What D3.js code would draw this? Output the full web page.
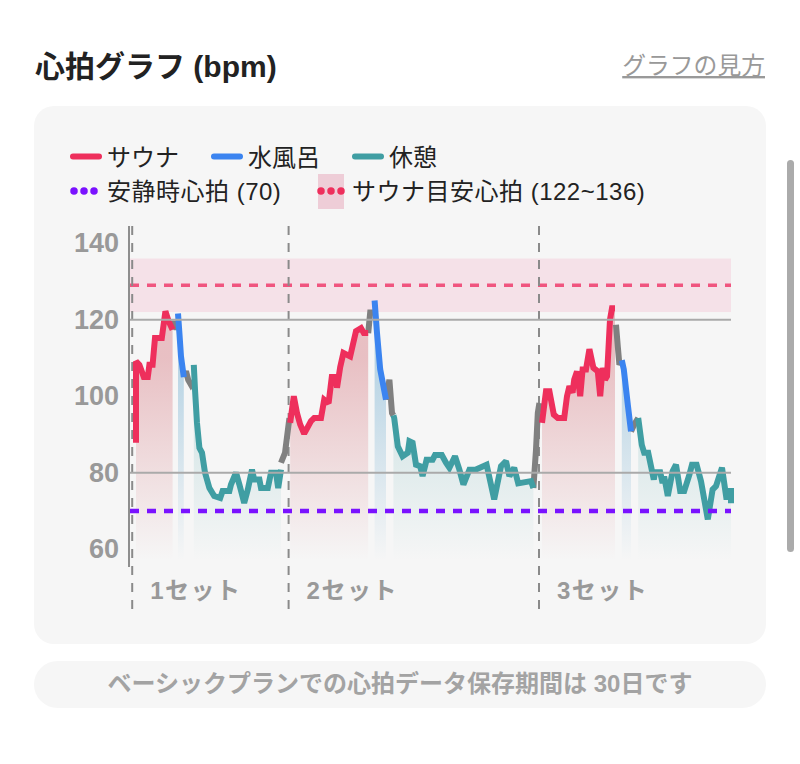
<!DOCTYPE html>
<html lang="ja">
<head>
<meta charset="utf-8">
<script src="https://cdnjs.cloudflare.com/ajax/libs/d3/7.8.5/d3.min.js"></script>
<style>
html, body { margin: 0; padding: 0; background: #fff; overflow: hidden; }
svg { display: block; }
text { font-family: "Liberation Sans", "Noto Sans CJK JP", sans-serif; }
</style>
</head>
<body>
<svg id="chart" width="800" height="764"></svg>
<script>
const yTicks = [60, 80, 100, 120, 140];
const gridValues = [80, 120];
const restHeartRate = 70;
const targetRange = [122, 136];
const setStarts = [0.3, 39.4, 102];
const setLabels = ['1セット', '2セット', '3セット'];

// [time, bpm]
const sauna1 = [[1.25,87.8],[1.25,109.1],[2.1,108.2],[3.2,105],[4.2,105],[4.6,108.2],[5.4,108.2],[6,115.2],[7.7,115.2],[8.6,122.2],[9.4,119.6],[10.4,117.4]];
const move1a = [[10.4,117.4],[10.9,119.6],[11.4,117.4],[11.75,119.6]];
const cold1 = [[11.75,121.6],[12.1,116.5],[12.5,110.4],[13.2,105]];
const move1b = [[13.2,105],[13.75,106.5],[14.3,104.3],[15,103],[15.3,103.5]];
const rest1 = [[15.7,108.2],[16,101.7],[16.5,93],[17.1,86.5],[17.75,85.2],[18.5,80],[19.6,76],[20.8,73.9],[22.3,73.4],[22.9,75.2],[24.6,75.2],[25,76.9],[26.25,80],[27.1,76.9],[28.3,72.1],[29.2,75.6],[30.25,80.8],[30.8,78.2],[32.1,78.2],[32.5,76],[34.2,76],[35,80],[36.25,80],[36.8,76],[37.5,80.8]];
const move2a = [[37.5,82.6],[38.5,85.2],[39.6,94.3]];
const sauna2 = [[39.8,93],[40.7,100],[41.5,95.6],[42.3,92.6],[43.3,90.2],[45,93.5],[45.8,94.3],[47.5,94.3],[48.3,99.1],[49.4,98.2],[50.2,105],[51.25,105],[51.5,102.2],[52.3,107.6],[53.1,111.3],[54.8,110.4],[56.25,117],[57.5,117.8],[58.2,116.5],[59.3,116.5]];
const move2b = [[59.3,116.5],[59.8,121.9],[60.5,121.9]];
const cold2 = [[60.9,125],[61.5,116.5],[62.3,107],[63.75,99.1]];
const move2c = [[63.75,99.1],[64.6,104.3],[65.25,95.6],[65.6,95]];
const rest2 = [[65.6,95],[65.8,94.3],[66.7,86.9],[67.9,84.3],[69.2,85.2],[69.6,88.2],[70.4,87.8],[71.25,82.1],[72.3,81.7],[72.9,79.1],[73.9,83.4],[75.4,83.4],[76,84.6],[77.7,84.6],[78.75,82.6],[79.6,81.3],[81,84.3],[82.1,80.8],[83.1,76.9],[84.6,80.8],[86.1,80.8],[88.9,82.1],[90.8,73],[92.5,81.7],[93.75,83],[94.6,79.1],[95.8,81.3],[96.8,77.2],[100,77.8],[100.6,76]];
const move3a = [[100.6,76],[101.25,86],[101.7,95.6],[102.1,98.2]];
const sauna3 = [[102.75,93],[103.75,101.3],[104.6,101.3],[105.7,95.2],[106.7,94.3],[108.3,94.3],[109,100],[109.6,102.6],[110.4,100.9],[110.8,104.3],[111.5,106.5],[112.3,100],[112.9,107],[113.75,107],[114.6,112.3],[115.6,107.4],[116.7,106.5],[117.3,100],[117.9,107.4],[118.5,104.3],[119,105.2],[119.75,120],[120.25,123],[121,123]];
const move3b = [[121.25,118.7],[121.7,113],[122.1,108.2],[122.7,109.4]];
const cold3 = [[122.7,109.4],[123.2,107],[124.2,97.8],[125,90.8]];
const move3c = [[125,90.8],[125.8,92.6],[126.8,94.3]];
const rest3 = [[126.8,94.3],[127.7,87.3],[128.3,85.2],[129.3,85.2],[130.7,78.2],[131,80.1],[132.3,80.1],[132.9,77.3],[133.3,79],[134.2,73.9],[135.4,80.4],[136.25,82.1],[137.3,75.2],[138.3,75.2],[139.6,79.5],[140.25,82.1],[141.4,82.1],[142.5,77.8],[144.2,67.8],[145.4,75.6],[146.25,76.5],[147.75,81.3],[148.9,73],[149.2,75.2],[150,75.2],[150,72]];

const saunaSegments = [sauna1, sauna2, sauna3];
const coldSegments = [cold1, cold2, cold3];
const restSegments = [rest1, rest2, rest3];
const moveSegments = [move1a, move1b, move2a, move2b, move2c, move3a, move3b, move3c];

const saunaColor = '#ee2f5c';
const coldColor = '#3b84f0';
const restColor = '#409ea3';
const moveColor = '#808080';

const svg = d3.select('#chart');
const x = d3.scaleLinear().domain([0, 150]).range([131, 731]);
const y = d3.scaleLinear().domain([80, 120]).range([472.7, 319.7]);

function defs() {
  const d = svg.append('defs');
  [['saunaFill', '#c8404c', 0.3], ['coldFill', '#3a8fc0', 0.34], ['restFill', restColor, 0.26]].forEach(g => {
    const grad = d.append('linearGradient').attr('id', g[0])
      .attr('gradientUnits', 'userSpaceOnUse')
      .attr('x1', 0).attr('x2', 0).attr('y1', y(110)).attr('y2', y(57));
    grad.append('stop').attr('offset', 0).attr('stop-color', g[1]).attr('stop-opacity', g[2]);
    grad.append('stop').attr('offset', 1).attr('stop-color', g[1]).attr('stop-opacity', 0);
  });
}

function frame() {
  svg.append('text').attr('x', 35).attr('y', 77)
    .attr('font-size', 30).attr('font-weight', 700).attr('fill', '#222')
    .text('心拍グラフ (bpm)');
  svg.append('text').attr('x', 765).attr('y', 74).attr('text-anchor', 'end')
    .attr('font-size', 23.8).attr('fill', '#999').attr('text-decoration', 'underline')
    .text('グラフの見方');
  svg.append('rect').attr('x', 34).attr('y', 106).attr('width', 732).attr('height', 538)
    .attr('rx', 20).attr('fill', '#f6f6f6');
  svg.append('rect').attr('x', 34).attr('y', 661).attr('width', 732).attr('height', 47)
    .attr('rx', 23.5).attr('fill', '#f6f6f6');
  svg.append('text').attr('x', 400).attr('y', 692).attr('text-anchor', 'middle')
    .attr('font-size', 24).attr('font-weight', 700).attr('fill', '#a3a3a3')
    .text('ベーシックプランでの心拍データ保存期間は 30日です');
  svg.append('rect').attr('x', 787).attr('y', 160).attr('width', 7).attr('height', 392)
    .attr('rx', 3.5).attr('fill', '#ababab');
}

function legend() {
  const g = svg.append('g').attr('font-size', 24).attr('fill', '#222');
  const lineItems = [[70, saunaColor, 'サウナ'], [211, coldColor, '水風呂'], [352, restColor, '休憩']];
  lineItems.forEach(d => {
    g.append('line').attr('x1', d[0] + 3).attr('x2', d[0] + 29).attr('y1', 156.5).attr('y2', 156.5)
      .attr('stroke', d[1]).attr('stroke-width', 6).attr('stroke-linecap', 'round');
    g.append('text').attr('x', d[0] + 37).attr('y', 166).text(d[2]);
  });
  g.append('rect').attr('x', 318).attr('y', 174).attr('width', 26).attr('height', 35).attr('fill', '#eecdd7');
  const dotItems = [[73, '#7a12ff', '安静時心拍 (70)', 107], [320, saunaColor, 'サウナ目安心拍 (122~136)', 352]];
  dotItems.forEach(d => {
    g.append('line').attr('x1', d[0] + 1).attr('x2', d[0] + 24).attr('y1', 191).attr('y2', 191)
      .attr('stroke', d[1]).attr('stroke-width', 7.5).attr('stroke-linecap', 'round')
      .attr('stroke-dasharray', '0 10');
    g.append('text').attr('x', d[3]).attr('y', 200).attr('letter-spacing', 0.5).text(d[2]);
  });
}

function plot() {
  const xl = x.range()[0] - 1, xr = x.range()[1];
  svg.append('rect').attr('x', xl).attr('width', xr - xl)
    .attr('y', y(targetRange[1])).attr('height', y(targetRange[0]) - y(targetRange[1]))
    .attr('fill', '#f5e1e8');
  svg.append('line').attr('x1', xl).attr('x2', xr).attr('y1', y(129)).attr('y2', y(129))
    .attr('stroke', '#f0557f').attr('stroke-width', 3.5).attr('stroke-dasharray', '9 8');

  const area = d3.area().x(d => x(d[0])).y0(y(54)).y1(d => y(d[1]));
  const line = d3.line().x(d => x(d[0])).y(d => y(d[1]));

  const fills = svg.append('g');
  fills.selectAll('.sauna').data(saunaSegments).join('path').attr('class', 'sauna').attr('d', area).attr('fill', 'url(#saunaFill)');
  fills.selectAll('.cold').data(coldSegments).join('path').attr('class', 'cold').attr('d', area).attr('fill', 'url(#coldFill)');
  fills.selectAll('.rest').data(restSegments).join('path').attr('class', 'rest').attr('d', area).attr('fill', 'url(#restFill)');

  // set dividers
  svg.selectAll('.divider').data(setStarts).join('line').attr('class', 'divider')
    .attr('x1', d => x(d)).attr('x2', d => x(d)).attr('y1', 226).attr('y2', 611)
    .attr('stroke', '#8a8a8a').attr('stroke-width', 2).attr('stroke-dasharray', '9 8');

  const drawLines = (segs, color) => svg.append('g').selectAll('path').data(segs).join('path')
    .attr('d', line).attr('fill', 'none').attr('stroke', color)
    .attr('stroke-width', 6).attr('stroke-linejoin', 'miter').attr('stroke-miterlimit', 2);
  drawLines(moveSegments, moveColor);
  drawLines(restSegments, restColor);
  drawLines(saunaSegments, saunaColor);
  drawLines(coldSegments, coldColor);

  svg.selectAll('.grid').data(gridValues).join('line').attr('class', 'grid')
    .attr('x1', xl).attr('x2', xr).attr('y1', d => y(d)).attr('y2', d => y(d))
    .attr('stroke', '#aaa').attr('stroke-width', 2);
  svg.append('line').attr('x1', xl).attr('x2', xr).attr('y1', y(restHeartRate)).attr('y2', y(restHeartRate))
    .attr('stroke', '#7a12ff').attr('stroke-width', 4.5).attr('stroke-dasharray', '9 8');

  const axis = d3.axisLeft(y).tickValues(yTicks).tickSize(0).tickPadding(10);
  const ag = svg.append('g').attr('transform', `translate(${xl - 1},0)`).call(axis);
  ag.select('.domain').remove();
  ag.selectAll('text').attr('font-size', 27).attr('font-weight', 700).attr('fill', '#999')
    .style('font-family', '"Liberation Sans", sans-serif');
  svg.append('line').attr('x1', xl - 1).attr('x2', xl - 1).attr('y1', 226).attr('y2', 567)
    .attr('stroke', '#8e8e8e').attr('stroke-width', 2);

  svg.selectAll('.setLabel').data(setLabels).join('text').attr('class', 'setLabel')
    .attr('x', (d, i) => x(setStarts[i]) + 18).attr('y', 599)
    .attr('font-size', 24).attr('font-weight', 700).attr('letter-spacing', 1.5).attr('fill', '#999').text(d => d);
}

const main = () => {
  defs();
  frame();
  legend();
  plot();
};
main();
</script>
</body>
</html>
